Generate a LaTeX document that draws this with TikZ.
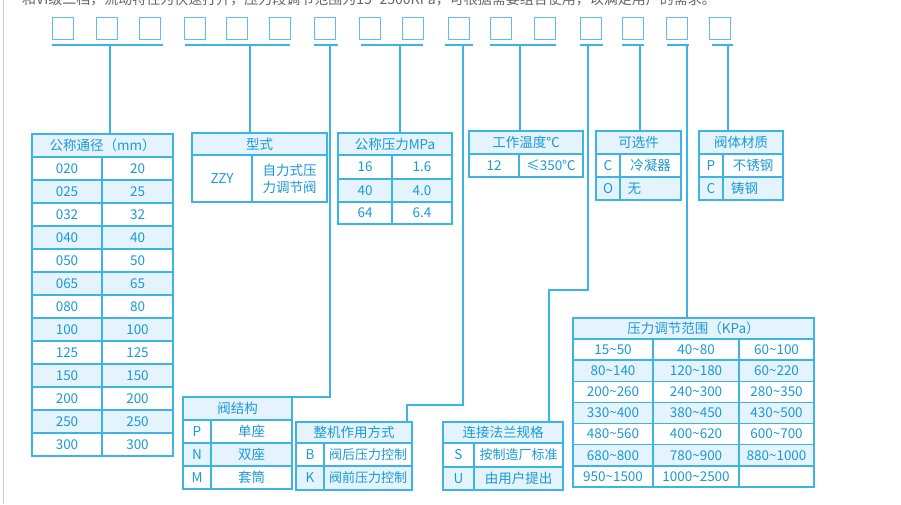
\documentclass[tikz,border=0pt]{standalone}
\usepackage{fontspec}
\setmainfont{Noto Sans CJK SC}
\definecolor{lb}{HTML}{3DB3E6}
\definecolor{sq}{HTML}{5CC0EC}
\definecolor{tc}{HTML}{1A9AD8}
\definecolor{lf}{HTML}{E4F3FC}
\newcommand\tld{\char126\relax}
\newcommand\cel[6]{\fill[#5] (#1,#2) rectangle (#3,#4); \draw[tl] (#1,#2) rectangle (#3,#4); \node[tx] at ({(#1+#3)/2},{(#2+#4)/2}) {#6};}
\tikzset{x=1pt,y=-1pt,
 tl/.style={draw=lb,line width=1.3pt},
 cn/.style={draw=lb,line width=1.1pt},
 tx/.style={text=tc,font=\fontsize{13.5}{14}\selectfont,inner sep=0pt},
 sqbox/.style={draw=sq,line width=1.4pt,minimum width=21pt,minimum height=22pt,inner sep=0pt,anchor=north west}}
\begin{document}
\begin{tikzpicture}
\useasboundingbox (0,0) rectangle (901,504);
\fill[white] (0,0) rectangle (901,504);
\draw[gray!40,line width=0.8pt] (3,0) -- (3,504);
\node[anchor=base west,text=gray!80!black,font=\fontsize{14}{15}\selectfont,inner sep=0pt] (top) at (22,4) {和VI级二档，流动特性为快速打开，压力段调节范围为15\tld2500KPa，可根据需要组合使用，以满足用户的需求。};
% squares
\foreach \x [count=\i] in {52,96,139,184,226,269,314,359,402,448,490,534,580,622,666,709}
  \node[sqbox] (s\i) at (\x,17) {};
% underlines
\foreach \a/\b/\n in {52/163/u1,185/290/u2,314/338/u3,361/423/u4,445/473/u5,490/556/u6,580/603/u7,622/644/u8,667/689/u9,712/733/u10}
  {\draw[cn] (\a,45) -- (\b,45); \coordinate (\n) at (\a,45);}
% connectors
\coordinate (c1) at (110,45); \coordinate (c2) at (250,45); \coordinate (c3) at (330,45);
\coordinate (c4) at (400,45); \coordinate (c5) at (463,45); \coordinate (c6) at (520,45);
\coordinate (c7) at (588,45); \coordinate (c8) at (640,45); \coordinate (c9) at (687,45);
\coordinate (c10) at (728,45);
\coordinate (t1) at (110,134); \coordinate (t2) at (250,133); \coordinate (t3) at (292,397);
\coordinate (t4) at (400,133); \coordinate (t5) at (407,422); \coordinate (t6) at (520,131);
\coordinate (t7) at (549,422); \coordinate (t8) at (640,131); \coordinate (t9) at (687,318);
\coordinate (t10) at (728,131);
\draw[cn] (c1) -- (t1); \draw[cn] (c2) -- (t2); \draw[cn] (c4) -- (t4);
\draw[cn] (c6) -- (t6); \draw[cn] (c8) -- (t8); \draw[cn] (c9) -- (t9); \draw[cn] (c10) -- (t10);
\draw[cn] (c3) |- (t3);
\draw[cn] (c5) -- (463,405) -| (t5);
\draw[cn] (c7) -- (588,290) -| (t7);
% 公称通径
\cel{32}{134}{173}{157}{lf}{公称通径（mm）}
\foreach \a/\b [count=\i from 0] in {020/20,025/25,032/32,040/40,050/50,065/65,080/80,100/100,125/125,150/150,200/200,250/250,300/300}{
  \pgfmathsetmacro\ya{157+23*\i}\pgfmathsetmacro\yb{180+23*\i}
  \ifodd\i \def\ff{lf}\else\def\ff{white}\fi
  \cel{32}{\ya}{102}{\yb}{\ff}{\a}\cel{102}{\ya}{173}{\yb}{\ff}{\b}}
% 型式
\cel{192}{133}{327}{155}{lf}{型式}
\cel{192}{155}{252}{202}{white}{ZZY}
\cel{252}{155}{327}{202}{white}{\parbox{70pt}{\centering\fontsize{13.5}{17}\selectfont 自力式压\\力调节阀}}
% 公称压力
\cel{338}{133}{452}{155}{lf}{公称压力MPa}
\cel{338}{155}{392}{179}{white}{16}\cel{392}{155}{452}{179}{white}{1.6}
\cel{338}{179}{392}{202}{lf}{40}\cel{392}{179}{452}{202}{lf}{4.0}
\cel{338}{202}{392}{224}{white}{64}\cel{392}{202}{452}{224}{white}{6.4}
% 工作温度
\cel{469}{131}{583}{154}{lf}{工作温度℃}
\cel{469}{154}{519}{177}{white}{12}\cel{519}{154}{583}{177}{white}{≤350℃}
% 可选件
\cel{596}{131}{681}{154}{lf}{可选件}
\cel{596}{154}{620}{177}{white}{C}\cel{620}{154}{681}{177}{white}{冷凝器}
\cel{596}{177}{620}{200}{lf}{O}\cel{620}{177}{681}{200}{lf}{\makebox[56pt][l]{\hspace{5pt}无}}
% 阀体材质
\cel{699}{131}{783}{154}{lf}{阀体材质}
\cel{699}{154}{723}{177}{white}{P}\cel{723}{154}{783}{177}{white}{不锈钢}
\cel{699}{177}{723}{200}{lf}{C}\cel{723}{177}{783}{200}{lf}{\makebox[54pt][l]{\hspace{5pt}铸钢}}
% 阀结构
\cel{183}{397}{292}{420}{lf}{阀结构}
\cel{183}{420}{211}{443}{white}{P}\cel{211}{420}{292}{443}{white}{单座}
\cel{183}{443}{211}{466}{lf}{N}\cel{211}{443}{292}{466}{lf}{双座}
\cel{183}{466}{211}{489}{white}{M}\cel{211}{466}{292}{489}{white}{套筒}
% 整机作用方式
\cel{296}{422}{412}{443}{lf}{整机作用方式}
\cel{296}{443}{324}{466}{white}{B}\cel{324}{443}{412}{466}{white}{\fontsize{13}{14}\selectfont 阀后压力控制}
\cel{296}{466}{324}{490}{lf}{K}\cel{324}{466}{412}{490}{lf}{\fontsize{13}{14}\selectfont 阀前压力控制}
% 连接法兰规格
\cel{443}{422}{563}{443}{lf}{连接法兰规格}
\cel{443}{443}{474}{467}{white}{S}\cel{474}{443}{563}{467}{white}{\fontsize{13}{14}\selectfont 按制造厂标准}
\cel{443}{467}{474}{490}{lf}{U}\cel{474}{467}{563}{490}{lf}{由用户提出}
% 压力调节范围
\cel{573}{318}{814}{339}{lf}{压力调节范围（KPa）}
\foreach \a/\b/\c [count=\i from 0] in {15\tld50/40\tld80/60\tld100,80\tld140/120\tld180/60\tld220,200\tld260/240\tld300/280\tld350,330\tld400/380\tld450/430\tld500,480\tld560/400\tld620/600\tld700,680\tld800/780\tld900/880\tld1000,950\tld1500/1000\tld2500/{}}{
  \pgfmathsetmacro\ya{339+21.14*\i}\pgfmathsetmacro\yb{360.14+21.14*\i}
  \ifodd\i \def\ff{lf}\else\def\ff{white}\fi
  \cel{573}{\ya}{653}{\yb}{\ff}{\a}\cel{653}{\ya}{739}{\yb}{\ff}{\b}\cel{739}{\ya}{814}{\yb}{\ff}{\c}}
\end{tikzpicture}
\end{document}
